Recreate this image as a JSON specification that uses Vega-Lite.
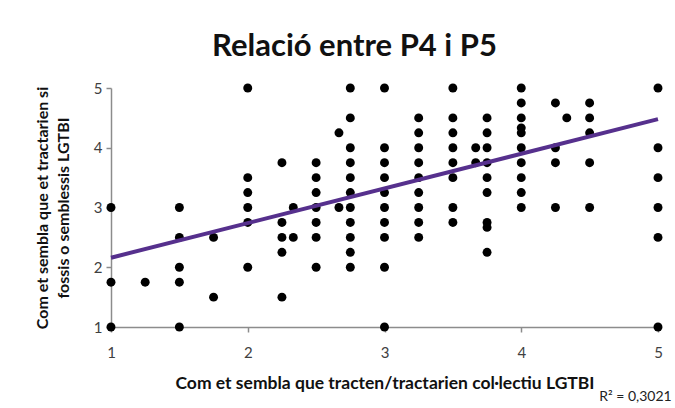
{
  "$schema": "https://vega.github.io/schema/vega-lite/v6.json",
  "autosize": "none",
  "width": 547,
  "height": 239,
  "padding": {"left": 111, "top": 88, "right": 17, "bottom": 81},
  "background": "white",
  "title": {
    "text": "Relació entre P4 i P5",
    "font": "Lato",
    "fontSize": 31,
    "fontWeight": "bold",
    "color": "#111111",
    "anchor": "middle",
    "offset": 18,
    "dx": -30
  },
  "config": {
    "view": {"stroke": null},
    "font": "Lato",
    "axis": {
      "grid": false,
      "domainColor": "#8c8c8c",
      "domainWidth": 1.5,
      "tickColor": "#8c8c8c",
      "tickWidth": 1.5,
      "tickSize": 5,
      "labelFont": "Lato",
      "labelFontSize": 15,
      "labelColor": "#404040",
      "labelFlush": false,
      "format": "d",
      "titleFont": "Lato",
      "titleFontWeight": "bold",
      "titleColor": "#111111"
    }
  },
  "datasets": {
    "points": [
      {"x": 1, "y": 3}, {"x": 1, "y": 1.75}, {"x": 1, "y": 1},
      {"x": 1.25, "y": 1.75},
      {"x": 1.5, "y": 3}, {"x": 1.5, "y": 2.5}, {"x": 1.5, "y": 2}, {"x": 1.5, "y": 1.75}, {"x": 1.5, "y": 1},
      {"x": 1.75, "y": 2.5}, {"x": 1.75, "y": 1.5},
      {"x": 2, "y": 5}, {"x": 2, "y": 3.5}, {"x": 2, "y": 3.25}, {"x": 2, "y": 3}, {"x": 2, "y": 2.75}, {"x": 2, "y": 2},
      {"x": 2.25, "y": 3.75}, {"x": 2.25, "y": 2.75}, {"x": 2.25, "y": 2.5}, {"x": 2.25, "y": 2.25}, {"x": 2.25, "y": 1.5},
      {"x": 2.333, "y": 3}, {"x": 2.333, "y": 2.5},
      {"x": 2.5, "y": 3.75}, {"x": 2.5, "y": 3.5}, {"x": 2.5, "y": 3.25}, {"x": 2.5, "y": 3}, {"x": 2.5, "y": 2.75}, {"x": 2.5, "y": 2.5}, {"x": 2.5, "y": 2},
      {"x": 2.667, "y": 4.25}, {"x": 2.667, "y": 3},
      {"x": 2.75, "y": 5}, {"x": 2.75, "y": 4.5}, {"x": 2.75, "y": 4}, {"x": 2.75, "y": 3.75}, {"x": 2.75, "y": 3.5}, {"x": 2.75, "y": 3.25}, {"x": 2.75, "y": 3}, {"x": 2.75, "y": 2.75}, {"x": 2.75, "y": 2.5}, {"x": 2.75, "y": 2.25}, {"x": 2.75, "y": 2},
      {"x": 3, "y": 5}, {"x": 3, "y": 4}, {"x": 3, "y": 3.75}, {"x": 3, "y": 3.5}, {"x": 3, "y": 3.25}, {"x": 3, "y": 3}, {"x": 3, "y": 2.75}, {"x": 3, "y": 2.5}, {"x": 3, "y": 2}, {"x": 3, "y": 1},
      {"x": 3.25, "y": 4.5}, {"x": 3.25, "y": 4.25}, {"x": 3.25, "y": 4}, {"x": 3.25, "y": 3.75}, {"x": 3.25, "y": 3.5}, {"x": 3.25, "y": 3.25}, {"x": 3.25, "y": 3}, {"x": 3.25, "y": 2.75}, {"x": 3.25, "y": 2.5},
      {"x": 3.5, "y": 5}, {"x": 3.5, "y": 4.5}, {"x": 3.5, "y": 4.25}, {"x": 3.5, "y": 4}, {"x": 3.5, "y": 3.75}, {"x": 3.5, "y": 3.5}, {"x": 3.5, "y": 3}, {"x": 3.5, "y": 2.75},
      {"x": 3.667, "y": 4}, {"x": 3.667, "y": 3.75},
      {"x": 3.75, "y": 4.5}, {"x": 3.75, "y": 4.25}, {"x": 3.75, "y": 4}, {"x": 3.75, "y": 3.75}, {"x": 3.75, "y": 3.5}, {"x": 3.75, "y": 3.25}, {"x": 3.75, "y": 2.75}, {"x": 3.75, "y": 2.667}, {"x": 3.75, "y": 2.25},
      {"x": 4, "y": 5}, {"x": 4, "y": 4.75}, {"x": 4, "y": 4.5}, {"x": 4, "y": 4.333}, {"x": 4, "y": 4.25}, {"x": 4, "y": 4}, {"x": 4, "y": 3.75}, {"x": 4, "y": 3.5}, {"x": 4, "y": 3.25}, {"x": 4, "y": 3},
      {"x": 4.25, "y": 4.75}, {"x": 4.25, "y": 4}, {"x": 4.25, "y": 3.75}, {"x": 4.25, "y": 3},
      {"x": 4.333, "y": 4.5},
      {"x": 4.5, "y": 4.75}, {"x": 4.5, "y": 4.5}, {"x": 4.5, "y": 4.25}, {"x": 4.5, "y": 3.75}, {"x": 4.5, "y": 3},
      {"x": 5, "y": 5}, {"x": 5, "y": 4}, {"x": 5, "y": 3.5}, {"x": 5, "y": 3}, {"x": 5, "y": 2.5}, {"x": 5, "y": 1}
    ],
    "trend": [
      {"x": 1, "y": 2.16},
      {"x": 5, "y": 4.48}
    ],
    "label": [
      {"x": 5.1, "y": -0.17, "text": "R² = 0,3021"}
    ]
  },
  "layer": [
    {
      "data": {"name": "points"},
      "mark": {"type": "point", "filled": true, "shape": "circle", "size": 80, "color": "#000000", "opacity": 1},
      "encoding": {
        "x": {
          "field": "x", "type": "quantitative",
          "scale": {"domain": [1, 5], "nice": false, "zero": false},
          "axis": {"values": [1, 2, 3, 4, 5], "title": "Com et sembla que tracten/tractarien col·lectiu LGTBI", "titleFontSize": 17.5, "labelPadding": 13, "titlePadding": 14}
        },
        "y": {
          "field": "y", "type": "quantitative",
          "scale": {"domain": [1, 5], "nice": false, "zero": false},
          "axis": {"values": [1, 2, 3, 4, 5], "title": ["Com et sembla que et tractarien si", "fossis o semblessis LGTBI"], "titleFontSize": 16, "titleLineHeight": 21, "labelPadding": 4, "titlePadding": 22}
        }
      }
    },
    {
      "data": {"name": "trend"},
      "mark": {"type": "line", "color": "#56308d", "strokeWidth": 4},
      "encoding": {
        "x": {"field": "x", "type": "quantitative"},
        "y": {"field": "y", "type": "quantitative"}
      }
    },
    {
      "data": {"name": "label"},
      "mark": {"type": "text", "align": "right", "baseline": "middle", "fontSize": 14, "font": "Lato", "color": "#222222", "clip": false},
      "encoding": {
        "x": {"field": "x", "type": "quantitative"},
        "y": {"field": "y", "type": "quantitative"},
        "text": {"field": "text"}
      }
    }
  ]
}
